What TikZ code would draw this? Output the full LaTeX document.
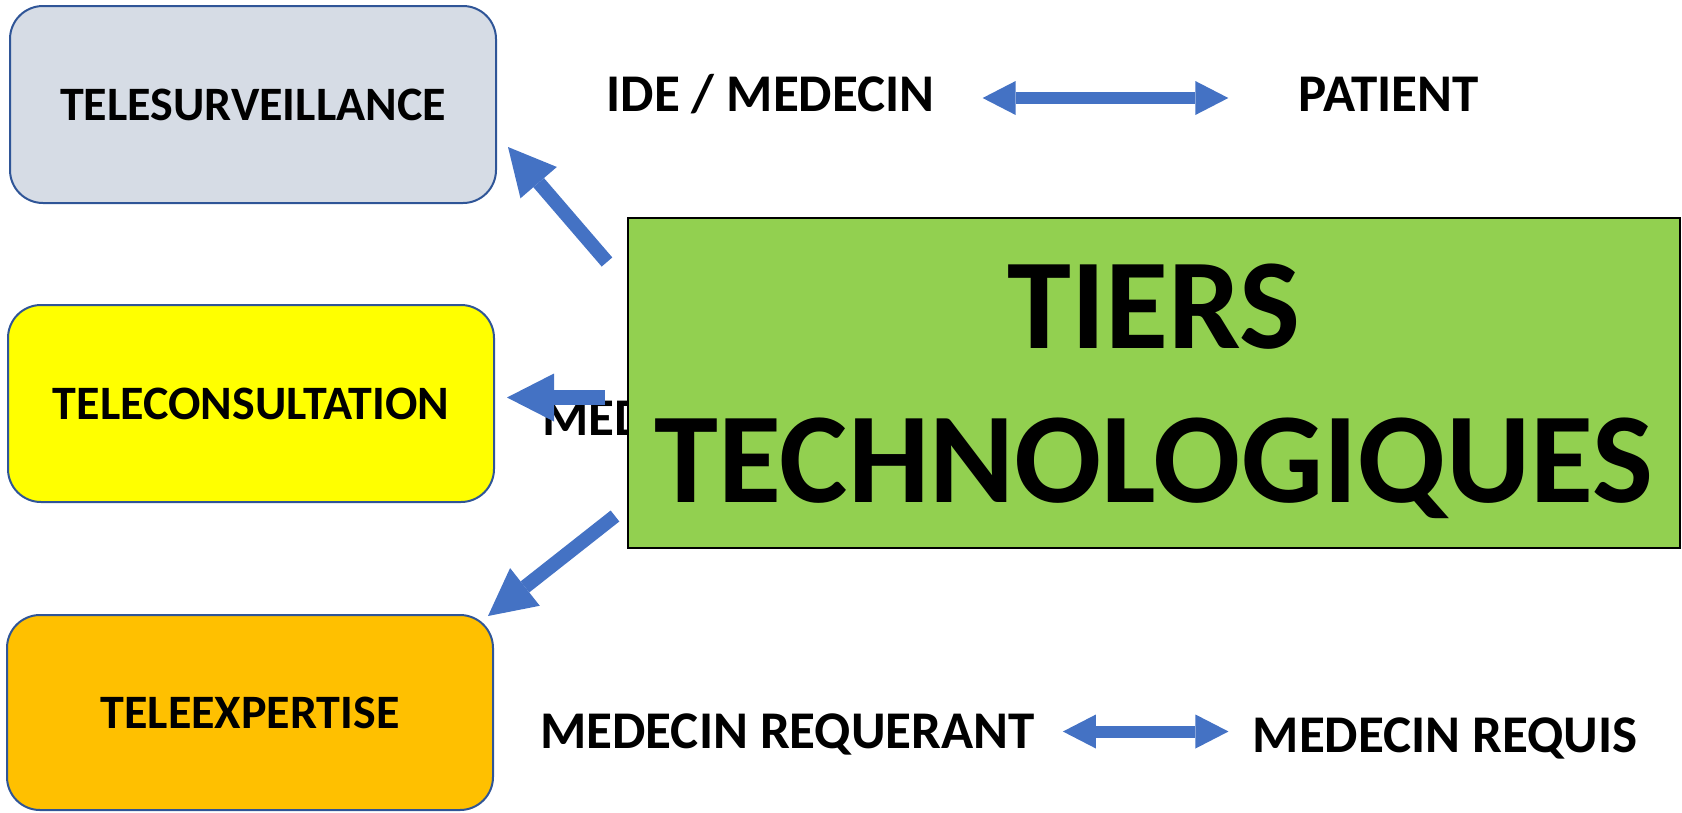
\documentclass[tikz,border=0pt]{standalone}
\usepackage{fontspec}
\setmainfont{Carlito}
\usetikzlibrary{arrows.meta, positioning}

\definecolor{boxline}{HTML}{2F5597}
\definecolor{arrowblue}{HTML}{4472C4}
\definecolor{survfill}{HTML}{D6DCE5}
\definecolor{consfill}{HTML}{FFFF00}
\definecolor{expfill}{HTML}{FFC000}
\definecolor{tiersfill}{HTML}{92D050}

\begin{document}
\begin{tikzpicture}[x=1pt, y=-1pt,
      acte/.style={rectangle, rounded corners=33pt, draw=boxline, line width=2pt, minimum width=486pt, minimum height=197pt, font=\fontsize{48}{54}\selectfont\bfseries},
      lbl/.style={inner sep=0pt, font=\fontsize{53}{60}\selectfont\bfseries},
      bigarrow/.style={arrowblue, line width=15pt, -{Triangle[length=47pt, width=48pt, line width=0pt]}},
      dblarrow/.style={arrowblue, line width=12pt, {Triangle[length=33pt, width=34pt, line width=0pt]}-{Triangle[length=33pt, width=34pt, line width=0pt]}}]

      \useasboundingbox (0,0) rectangle (1682,812);

      \node[acte, fill=survfill] (surv) at (253,104.5) {TELESURVEILLANCE};
      \node[acte, fill=consfill] (cons) at (251,403.5) {TELECONSULTATION};
      \node[acte, fill=expfill, minimum height=195pt] (exp) at (250,712.5) {TELEEXPERTISE};

      % Who talks to whom
      \node[lbl, text height=34pt, text depth=8pt] (ide) at (770.5,98) {IDE / MEDECIN};
      \node[lbl, text height=34pt, text depth=8pt] (patient) at (1388.5,98) {PATIENT};
      \draw[dblarrow, shorten <=48pt, shorten >=70pt] (ide) -- (patient);

      \node[lbl, anchor=base west] (med) at (542,435) {MEDECIN};

      \node[lbl, text height=33pt, text depth=0pt] (req) at (787.5,731.5) {MEDECIN REQUERANT};
      \node[lbl, text height=33pt, text depth=0pt] (requis) at (1445,735.5) {MEDECIN REQUIS};
      \draw[dblarrow, shorten <=28pt, shorten >=24pt] (req.east) -- (req.east -| requis.west);

      % Arrows out of the middle box
      \coordinate (s1) at (607,262);
      \coordinate (t1) at (508,147);
      \coordinate (s2) at (605,397.5);
      \coordinate (t2) at (507,397.5);
      \coordinate (s3) at (615,516);
      \coordinate (t3) at (488,616);
      \draw[bigarrow, line width=14pt] (s1) -- (t1);
      \draw[bigarrow] (s2) -- (t2);
      \draw[bigarrow, line width=14pt] (s3) -- (t3);

      \node[draw=black, line width=2pt, fill=tiersfill, minimum width=1052pt, minimum height=330pt,
            align=center, text depth=0pt, font=\fontsize{129}{154}\selectfont\bfseries] (tiers) at (1154,383) {TIERS\\TECHNOLOGIQUES};
    \end{tikzpicture}
\end{document}
